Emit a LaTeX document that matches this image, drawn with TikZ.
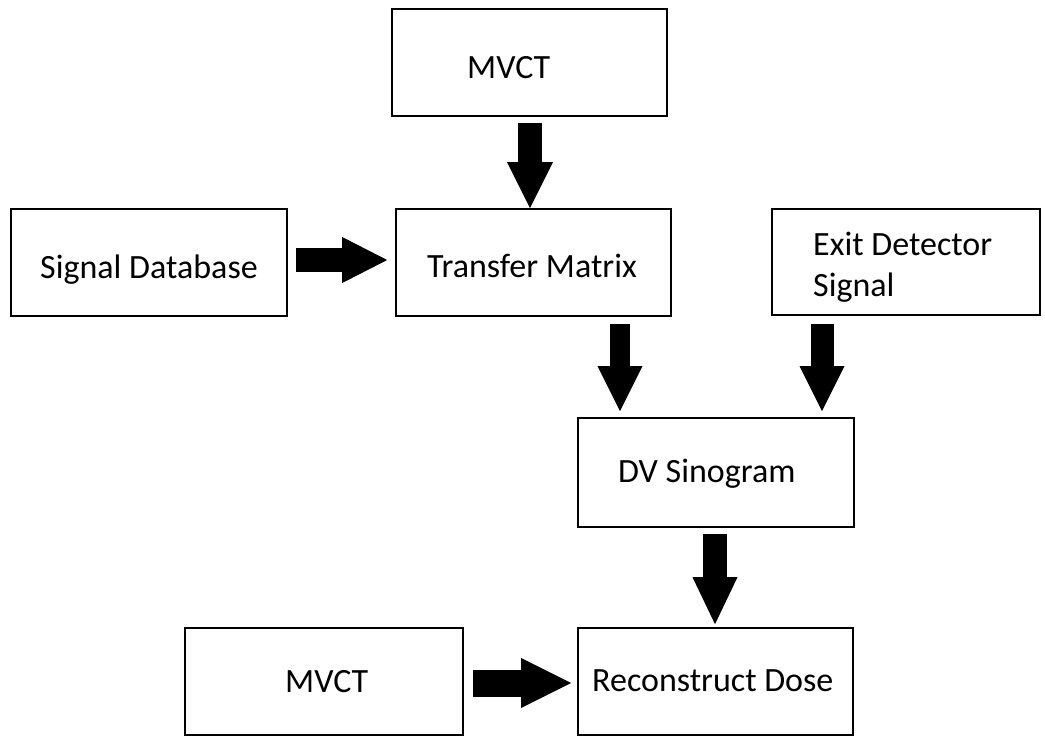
\documentclass[tikz,border=0pt]{standalone}
\usepackage{fontspec}
\setmainfont{Carlito}
\usetikzlibrary{arrows.meta,calc}
\tikzset{
  box/.style={draw=black, line width=1.6pt, fill=white, inner sep=0pt},
  lbl/.style={anchor=base west, inner sep=0pt, font=\fontsize{34}{41}\selectfont, text=black},
  blockarrow/.style n args={3}{draw=black, line width=#1,
    -{Triangle[length=#2, width=#3, line width=0pt]}},
}
\begin{document}
\begin{tikzpicture}[x=1pt, y=-1pt]
\useasboundingbox (0,0) rectangle (1045,740);
% boxes
\node[box, minimum width=275pt, minimum height=107pt] (mvct1) at (529.5,62.5) {};
\node[box, minimum width=276pt, minimum height=107pt] (sigdb) at (149,262.5) {};
\node[box, minimum width=275pt, minimum height=107pt] (tm) at (533.5,262.5) {};
\node[box, minimum width=268pt, minimum height=106pt] (exit) at (906,262) {};
\node[box, minimum width=276pt, minimum height=109pt] (dv) at (716,472.5) {};
\node[box, minimum width=278pt, minimum height=107pt] (mvct2) at (324,681.5) {};
\node[box, minimum width=275pt, minimum height=107pt] (rd) at (715.5,681.5) {};
% texts
\node[lbl] (t1) at (467,78) {MVCT};
\node[lbl] (t2) at (40,278) {Signal Database};
\node[lbl] (t3) at (427,277) {Transfer Matrix};
\node[lbl, align=left] (t4) at (813,296) {Exit Detector\\Signal};
\node[lbl] (t5) at (618,482) {DV Sinogram};
\node[lbl] (t6) at (285,692) {MVCT};
\node[lbl] (t7) at (592,691) {Reconstruct Dose};
% arrows
\draw[blockarrow={24pt}{46pt}{46pt}] (mvct1.south) ++(0.5,6) coordinate (a1) -- (a1 |- tm.north);
\draw[blockarrow={24pt}{45pt}{46pt}] (sigdb.east) ++(8,-2.5) coordinate (a2) -- ($(a2 -| tm.west)+(-8,0)$);
\draw[blockarrow={20pt}{45pt}{45pt}] (tm.south) ++(86.5,7) coordinate (a3) -- ($(a3 |- dv.north)+(0,-6)$);
\draw[blockarrow={23pt}{45pt}{45pt}] (exit.south) ++(-84,8) coordinate (a4) -- ($(a4 |- dv.north)+(0,-6)$);
\draw[blockarrow={24pt}{47pt}{45pt}] (dv.south) ++(-1,6) coordinate (a5) -- ($(a5 |- rd.north)+(0,-3)$);
\draw[blockarrow={27pt}{50pt}{50pt}] (mvct2.east) ++(9,1.5) coordinate (a6) -- ($(a6 -| rd.west)+(-6,0)$);
\end{tikzpicture}
\end{document}
